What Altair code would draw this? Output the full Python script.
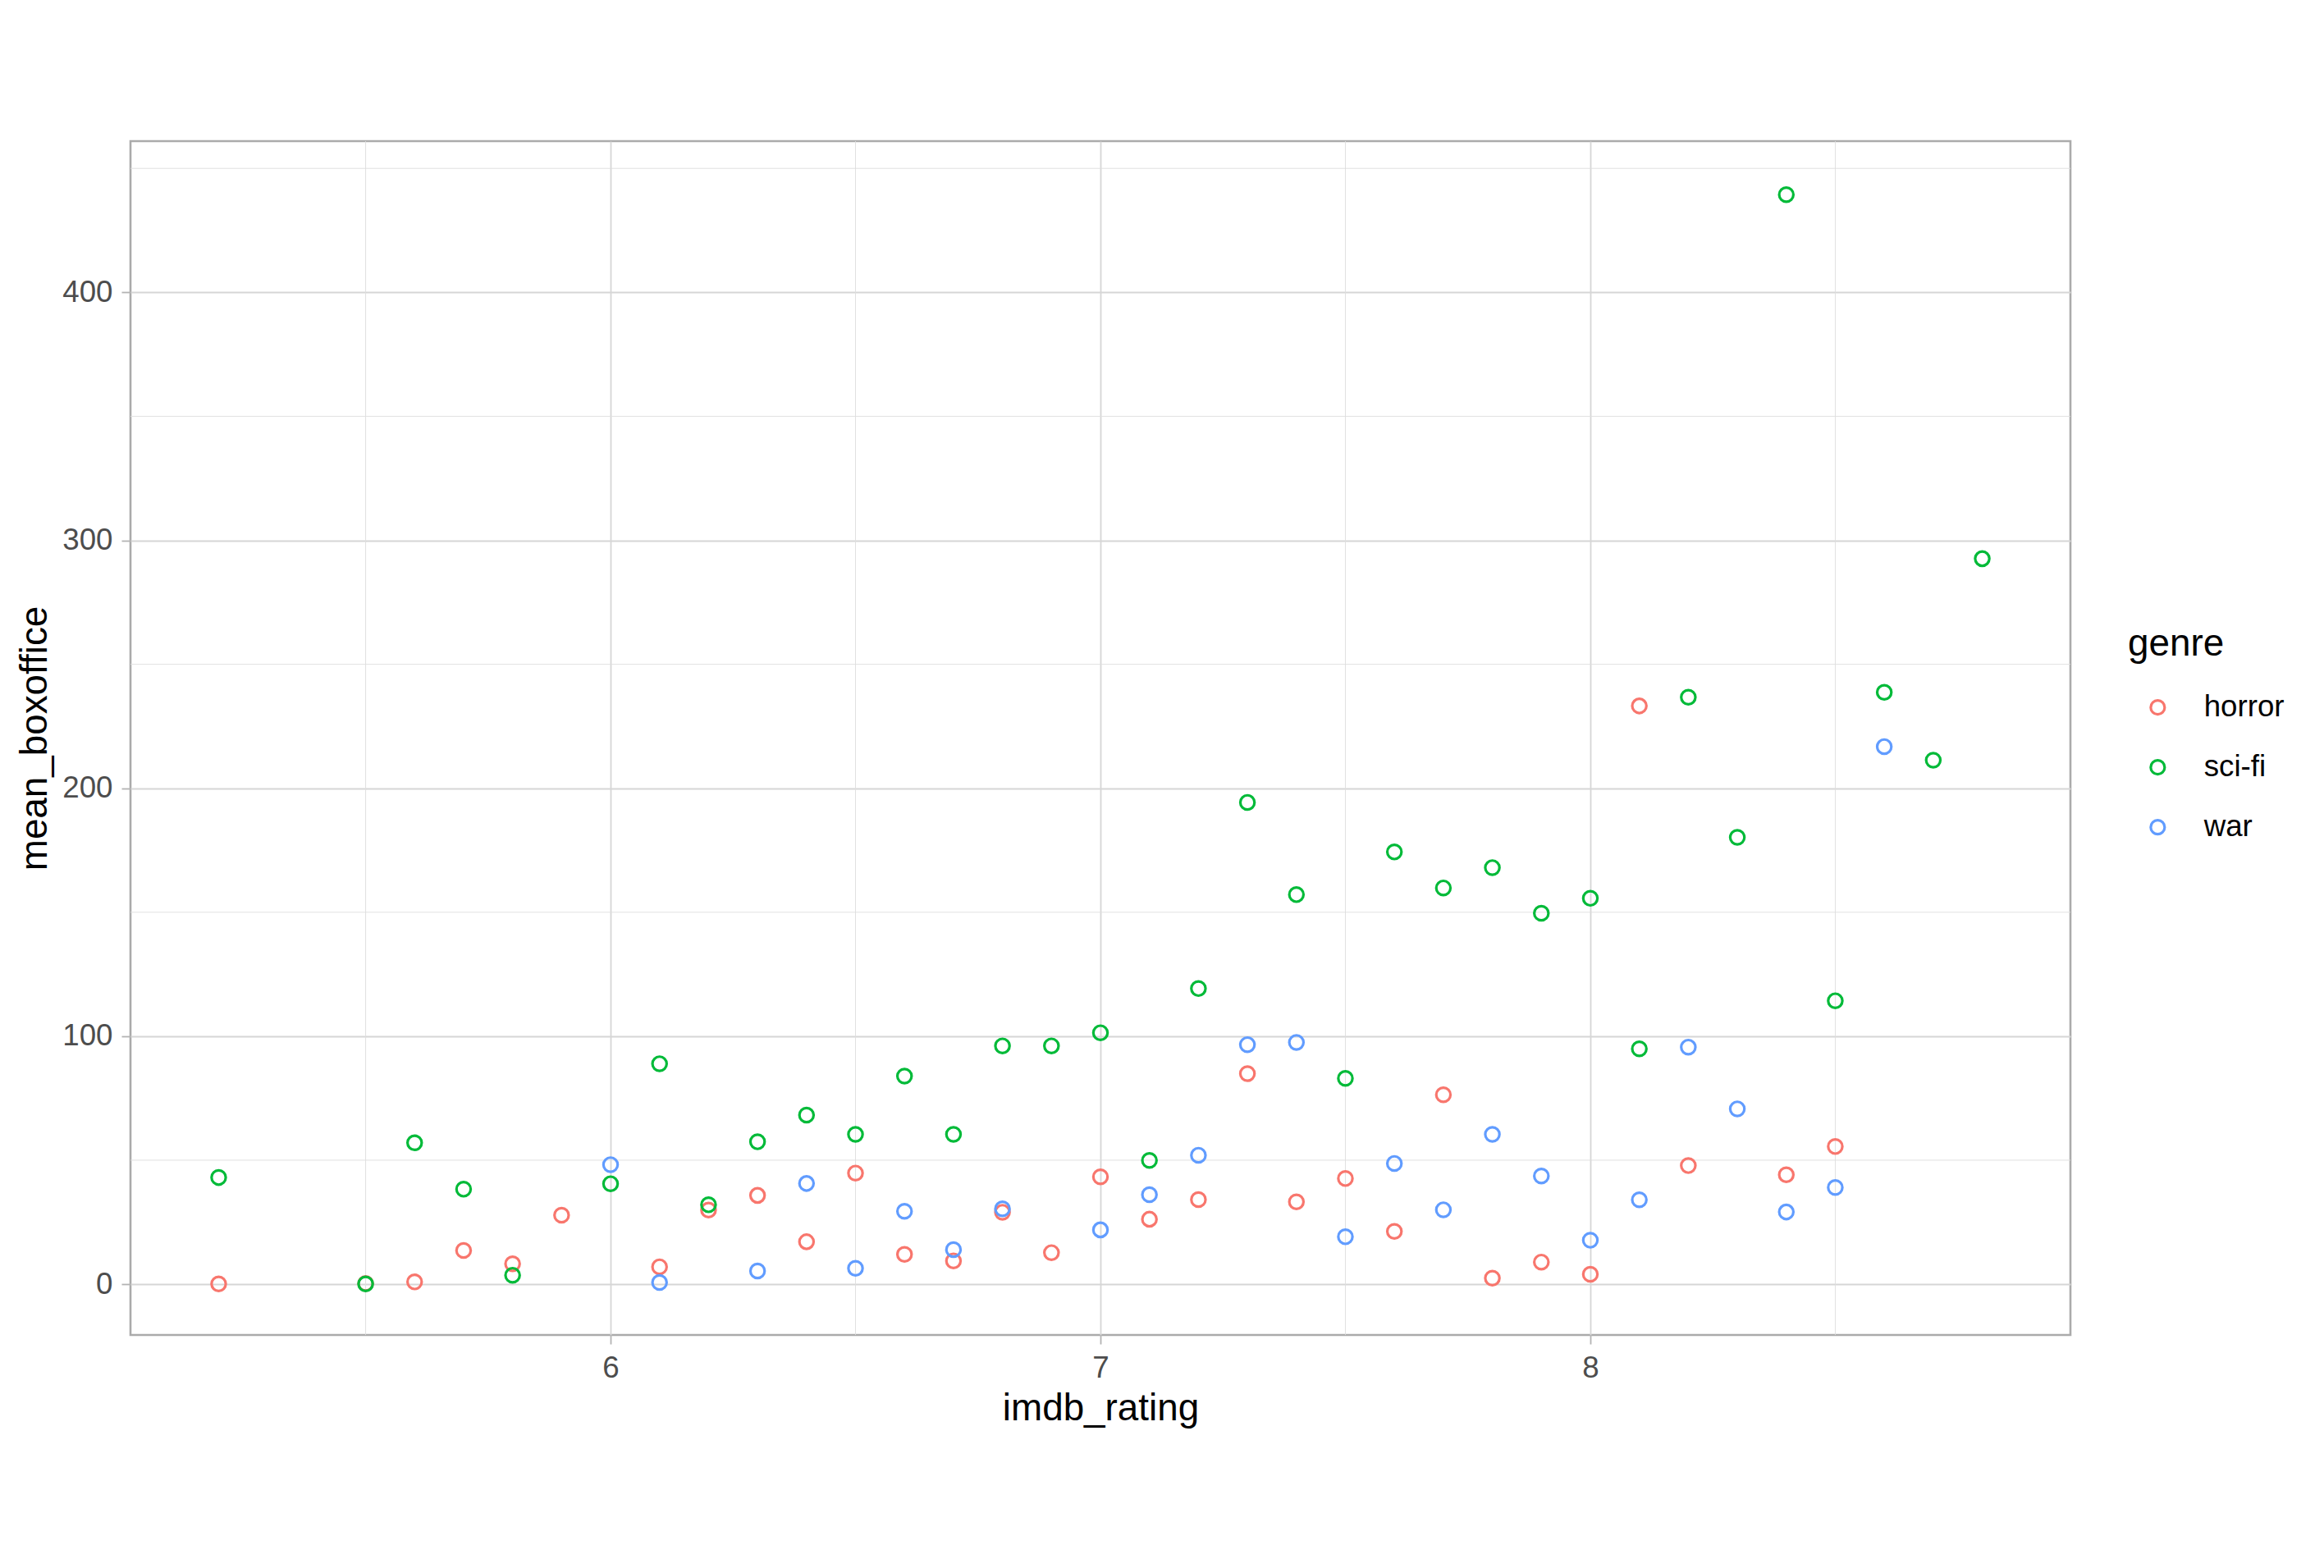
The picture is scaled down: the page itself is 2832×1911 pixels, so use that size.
import altair as alt
import pandas as pd

# ---- data ----
horror_x = [5.2, 5.5, 5.6, 5.7, 5.8, 5.9, 6.1, 6.2, 6.3, 6.4, 6.5, 6.6, 6.7, 6.8, 6.9,
            7.0, 7.1, 7.2, 7.3, 7.4, 7.5, 7.6, 7.7, 7.8, 7.9, 8.0, 8.1, 8.2, 8.4, 8.5]
horror_y = [0.1, 0.3, 0.9, 13.6, 8.2, 27.8, 7.0, 29.9, 35.8, 17.1, 44.8, 12.0, 9.4, 29.0, 12.7,
            43.3, 26.2, 34.1, 84.9, 33.2, 42.6, 21.3, 76.4, 2.4, 8.9, 4.0, 233.2, 47.8, 44.1, 55.5]

scifi_x = [5.2, 5.5, 5.6, 5.7, 5.8, 6.0, 6.1, 6.2, 6.3, 6.4, 6.5, 6.6, 6.7, 6.8, 6.9, 7.0, 7.1,
           7.2, 7.3, 7.4, 7.5, 7.6, 7.7, 7.8, 7.9, 8.0, 8.1, 8.2, 8.3, 8.4, 8.5, 8.6, 8.7, 8.8]
scifi_y = [43.0, 0.1, 57.0, 38.3, 3.6, 40.5, 88.9, 32.0, 57.4, 68.2, 60.4, 83.9, 60.4, 96.1, 96.1,
           101.4, 49.9, 119.2, 194.3, 157.1, 83.0, 174.3, 159.8, 168.0, 149.6, 155.6, 94.9, 236.7,
           180.2, 439.4, 114.3, 238.7, 211.3, 292.6]

war_x = [6.0, 6.1, 6.3, 6.4, 6.5, 6.6, 6.7, 6.8, 7.0, 7.1, 7.2, 7.3, 7.4, 7.5, 7.6, 7.7, 7.8,
         7.9, 8.0, 8.1, 8.2, 8.3, 8.4, 8.5, 8.6]
war_y = [48.2, 0.7, 5.3, 40.6, 6.4, 29.4, 13.9, 30.4, 21.9, 36.1, 52.0, 96.6, 97.5, 19.1, 48.7,
         30.0, 60.4, 43.6, 17.7, 34.0, 95.6, 70.7, 29.1, 39.0, 216.8]

genres = ["horror", "sci-fi", "war"]
colors = ["#F8766D", "#00BA38", "#619CFF"]

x_major = [6, 7, 8]
x_minor = [5.5, 6.5, 7.5, 8.5]
y_major = [0, 100, 200, 300, 400]
y_minor = [50, 150, 250, 350, 450]

x_domain = [5.02, 8.98]
y_domain = [-20.5, 461]

# ---- table ----
rows = []
for g, xs, ys in zip(genres, [horror_x, scifi_x, war_x], [horror_y, scifi_y, war_y]):
    for xv, yv in zip(xs, ys):
        rows.append({"imdb_rating": xv, "mean_boxoffice": yv, "genre": g})
df = pd.DataFrame(rows)
df["order"] = range(len(df))

FONT = "Liberation Sans"
GRID = "#DEDEDE"

xscale = alt.Scale(domain=x_domain, nice=False, zero=False)
yscale = alt.Scale(domain=y_domain, nice=False, zero=False)

minor_x = alt.Chart(pd.DataFrame({"v": x_minor})).mark_rule(
    color=GRID, strokeWidth=0.9
).encode(x=alt.X("v:Q", scale=xscale))

minor_y = alt.Chart(pd.DataFrame({"v": y_minor})).mark_rule(
    color=GRID, strokeWidth=0.9
).encode(y=alt.Y("v:Q", scale=yscale))

points = alt.Chart(df).mark_point(
    shape="circle", filled=False, size=300, strokeWidth=3.2, opacity=1
).encode(
    x=alt.X("imdb_rating:Q", scale=xscale, title="imdb_rating",
            axis=alt.Axis(values=x_major, format="d", grid=True, gridColor="#D6D6D6",
                          gridWidth=1.8, tickSize=11, tickColor="#B3B3B3", tickWidth=1.8,
                          domain=False, labelFont=FONT, labelFontSize=36.7,
                          labelColor="#4D4D4D", labelPadding=11, titleFont=FONT,
                          titleFontSize=45.8, titleFontWeight="normal", titleColor="#000000",
                          titlePadding=9)),
    y=alt.Y("mean_boxoffice:Q", scale=yscale, title="mean_boxoffice",
            axis=alt.Axis(values=y_major, format="d", grid=True, gridColor="#D6D6D6",
                          gridWidth=1.8, tickSize=11, tickColor="#B3B3B3", tickWidth=1.8,
                          domain=False, labelFont=FONT, labelFontSize=36.7,
                          labelColor="#4D4D4D", labelPadding=11, titleFont=FONT,
                          titleFontSize=45.8, titleFontWeight="normal", titleColor="#000000",
                          titlePadding=9)),
    color=alt.Color("genre:N", scale=alt.Scale(domain=genres, range=colors),
                    legend=alt.Legend(title="genre", orient="none", legendX=2434, legendY=591,
                                      titleFont=FONT, titleFontSize=45.8,
                                      titleFontWeight="normal", titleColor="#000000",
                                      titlePadding=35, labelFont=FONT, labelFontSize=36.7,
                                      labelColor="#000000", rowPadding=35, symbolSize=289,
                                      symbolStrokeWidth=3.2, symbolType="circle",
                                      symbolOffset=18, labelOffset=38, padding=0)),
    order=alt.Order("order:Q"),
)

chart = alt.layer(minor_x, minor_y, points).properties(
    width=2364, height=1455,
    background="white",
    autosize=alt.AutoSizeParams(type="none"),
    padding={"left": 151, "top": 164, "right": 300, "bottom": 270},
).configure_view(
    stroke="#ABABAB", strokeWidth=2.6, strokeOpacity=1
)

chart.save("out.html", embed_options={"renderer": "svg", "actions": False})
